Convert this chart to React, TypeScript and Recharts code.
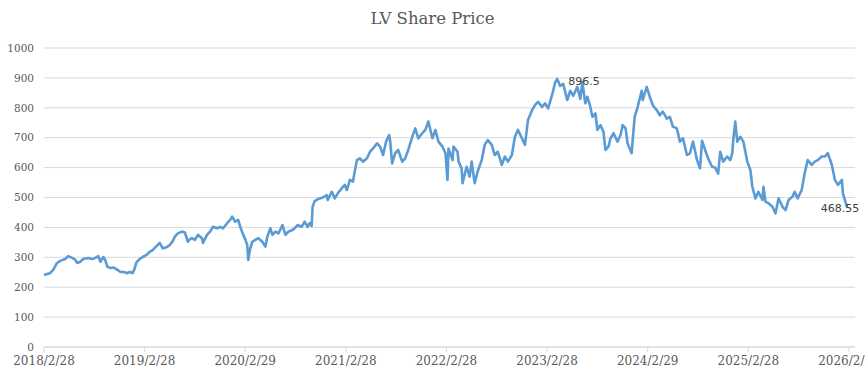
import React from "react";
import { LineChart, Line, XAxis, YAxis, CartesianGrid, LabelList } from "recharts";

// years elapsed since 2018/2/28
const yearsSinceStart: number[] = [
  0.00, 0.03, 0.06, 0.09, 0.13, 0.16, 0.21, 0.24, 0.28, 0.31, 0.33, 0.36, 0.39, 0.44, 0.48, 0.51, 0.54, 0.56, 0.59, 0.61,
  0.63, 0.66, 0.69, 0.73, 0.76, 0.79, 0.83, 0.85, 0.88, 0.90, 0.92, 0.95, 0.98, 1.02, 1.05, 1.08, 1.12, 1.15, 1.18, 1.22,
  1.25, 1.28, 1.30, 1.33, 1.37, 1.40, 1.43, 1.45, 1.47, 1.50, 1.53, 1.57, 1.58, 1.62, 1.65, 1.68, 1.72, 1.75, 1.78, 1.82,
  1.85, 1.87, 1.90, 1.93, 1.95, 1.98, 2.00, 2.02, 2.03, 2.05, 2.07, 2.10, 2.13, 2.17, 2.20, 2.22, 2.25, 2.27, 2.30, 2.33,
  2.37, 2.40, 2.43, 2.47, 2.49, 2.52, 2.56, 2.59, 2.62, 2.64, 2.66, 2.67, 2.69, 2.71, 2.74, 2.77, 2.81, 2.82, 2.86, 2.89,
  2.92, 2.96, 2.99, 3.01, 3.04, 3.07, 3.09, 3.11, 3.14, 3.17, 3.21, 3.24, 3.27, 3.31, 3.34, 3.37, 3.40, 3.43, 3.44, 3.46,
  3.49, 3.52, 3.56, 3.59, 3.62, 3.66, 3.69, 3.72, 3.76, 3.79, 3.82, 3.86, 3.89, 3.92, 3.96, 3.99, 4.01, 4.02, 4.06, 4.07,
  4.11, 4.12, 4.15, 4.16, 4.20, 4.23, 4.25, 4.28, 4.31, 4.35, 4.38, 4.41, 4.45, 4.48, 4.51, 4.55, 4.58, 4.61, 4.65, 4.68,
  4.71, 4.75, 4.78, 4.81, 4.85, 4.88, 4.91, 4.95, 4.98, 5.01, 5.05, 5.08, 5.10, 5.13, 5.16, 5.20, 5.23, 5.26, 5.30, 5.33,
  5.35, 5.38, 5.40, 5.43, 5.45, 5.48, 5.50, 5.53, 5.56, 5.58, 5.61, 5.63, 5.66, 5.70, 5.73, 5.75, 5.78, 5.80, 5.84, 5.87,
  5.90, 5.94, 5.95, 5.99, 6.02, 6.05, 6.09, 6.12, 6.15, 6.19, 6.22, 6.25, 6.29, 6.32, 6.35, 6.39, 6.42, 6.45, 6.49, 6.52,
  6.54, 6.57, 6.60, 6.64, 6.67, 6.70, 6.72, 6.75, 6.79, 6.82, 6.84, 6.85, 6.87, 6.89, 6.92, 6.95, 6.99, 7.02, 7.04, 7.07,
  7.10, 7.14, 7.15, 7.17, 7.20, 7.24, 7.27, 7.30, 7.34, 7.37, 7.40, 7.44, 7.46, 7.49, 7.53, 7.56, 7.59, 7.63, 7.66, 7.69,
  7.73, 7.76, 7.79, 7.83, 7.86, 7.89, 7.93, 7.94, 7.98,
];

const sharePrice: number[] = [
  241, 244, 247, 257, 281, 288, 294, 304, 298, 292, 281, 285, 294, 298, 294, 298, 304, 285, 301, 290,
  268, 264, 266, 258, 251, 251, 247, 251, 247, 262, 284, 294, 301, 308, 318, 324, 338, 348, 330, 334,
  341, 354, 369, 380, 386, 383, 352, 360, 364, 358, 375, 364, 348, 375, 386, 402, 397, 402, 397, 414,
  425, 436, 419, 425, 402, 375, 360, 341, 291, 330, 352, 358, 364, 352, 336, 369, 397, 375, 386, 380,
  408, 375, 386, 391, 397, 408, 402, 419, 402, 414, 405, 470, 488, 492, 497, 500, 508, 492, 519, 497,
  514, 531, 542, 525, 559, 553, 590, 625, 631, 620, 631, 653, 664, 681, 670, 642, 687, 709, 690, 614,
  648, 659, 620, 631, 659, 703, 731, 698, 715, 726, 754, 698, 726, 687, 670, 648, 559, 664, 625, 670,
  653, 620, 598, 548, 603, 570, 620, 548, 587, 625, 676, 692, 676, 642, 653, 609, 637, 620, 642, 703,
  726, 698, 676, 759, 792, 809, 820, 803, 815, 798, 843, 885, 896.5, 873, 880, 826, 857, 840, 870, 830,
  886, 815, 837, 803, 770, 781, 726, 742, 720, 659, 670, 698, 715, 687, 709, 742, 731, 681, 648, 770,
  803, 857, 826, 870, 837, 809, 792, 775, 787, 764, 770, 737, 731, 687, 698, 642, 648, 687, 625, 598,
  690, 659, 631, 603, 600, 580, 653, 620, 637, 625, 648, 692, 754, 687, 703, 687, 620, 592, 536, 497,
  519, 492, 536, 486, 481, 469, 447, 497, 469, 458, 492, 503, 519, 497, 525, 581, 625, 609, 620, 625,
  637, 637, 648, 609, 559, 542, 559, 514, 468.55,
];

const xTickValues: number[] = [0, 1, 2, 3, 4, 5, 6, 7, 8];
const xTickLabels: string[] = [
  "2018/2/28", "2019/2/28", "2020/2/29", "2021/2/28", "2022/2/28",
  "2023/2/28", "2024/2/29", "2025/2/28", "2026/2/28",
];
const yTickValues: number[] = [0, 100, 200, 300, 400, 500, 600, 700, 800, 900, 1000];

const chartData = yearsSinceStart.map((t, i) => ({ t, price: sharePrice[i] }));
const peakIndex = sharePrice.indexOf(Math.max(...sharePrice));
const lastIndex = sharePrice.length - 1;

const PointLabel = (props: any) => {
  const { x, y, value, index } = props;
  if (index === peakIndex) {
    return (
      <text x={x + 11} y={y + 2} dy="0.35em" textAnchor="start" fontSize={11}
        fontFamily="'DejaVu Sans', sans-serif" fill="#404040">{value}</text>
    );
  }
  if (index === lastIndex) {
    return (
      <text x={x - 7} y={y + 1} dy="0.35em" textAnchor="middle" fontSize={11}
        fontFamily="'DejaVu Sans', sans-serif" fill="#404040">{value}</text>
    );
  }
  return null;
};

export default function App() {
  return (
    <div style={{ position: "absolute", left: 0, top: 0, width: 865, height: 374, overflow: "hidden", background: "#fff" }}>
      <div style={{
        position: "absolute", left: 0, top: 7, width: 865, textAlign: "center",
        fontFamily: "'DejaVu Serif', serif", fontSize: 16.5, color: "#595959", lineHeight: "24px",
      }}>LV Share Price</div>
      <LineChart width={865} height={374} data={chartData}
        margin={{ top: 48, right: 10, left: 0, bottom: 0 }}>
        <CartesianGrid horizontal={true} vertical={false} stroke="#d9d9d9" strokeWidth={1} />
        <XAxis dataKey="t" type="number" domain={[0, 8.06]} ticks={xTickValues}
          tickFormatter={(v: number) => xTickLabels[xTickValues.indexOf(v)] ?? ""}
          height={27} stroke="#d9d9d9" tickSize={5} tickMargin={4} interval={0}
          tick={{ fill: "#595959", fontSize: 12, fontFamily: "'DejaVu Serif', serif" }}
          allowDataOverflow />
        <YAxis type="number" domain={[0, 1000]} ticks={yTickValues} width={44}
          axisLine={false} tickLine={false} tickSize={0} tickMargin={10} interval={0}
          tick={{ fill: "#595959", fontSize: 10.5, fontFamily: "'DejaVu Serif', serif" }} />
        <Line type="linear" dataKey="price" stroke="#5B9BD5" strokeWidth={2.6}
          dot={false} isAnimationActive={false} strokeLinejoin="round">
          <LabelList dataKey="price" content={PointLabel} />
        </Line>
      </LineChart>
    </div>
  );
}
